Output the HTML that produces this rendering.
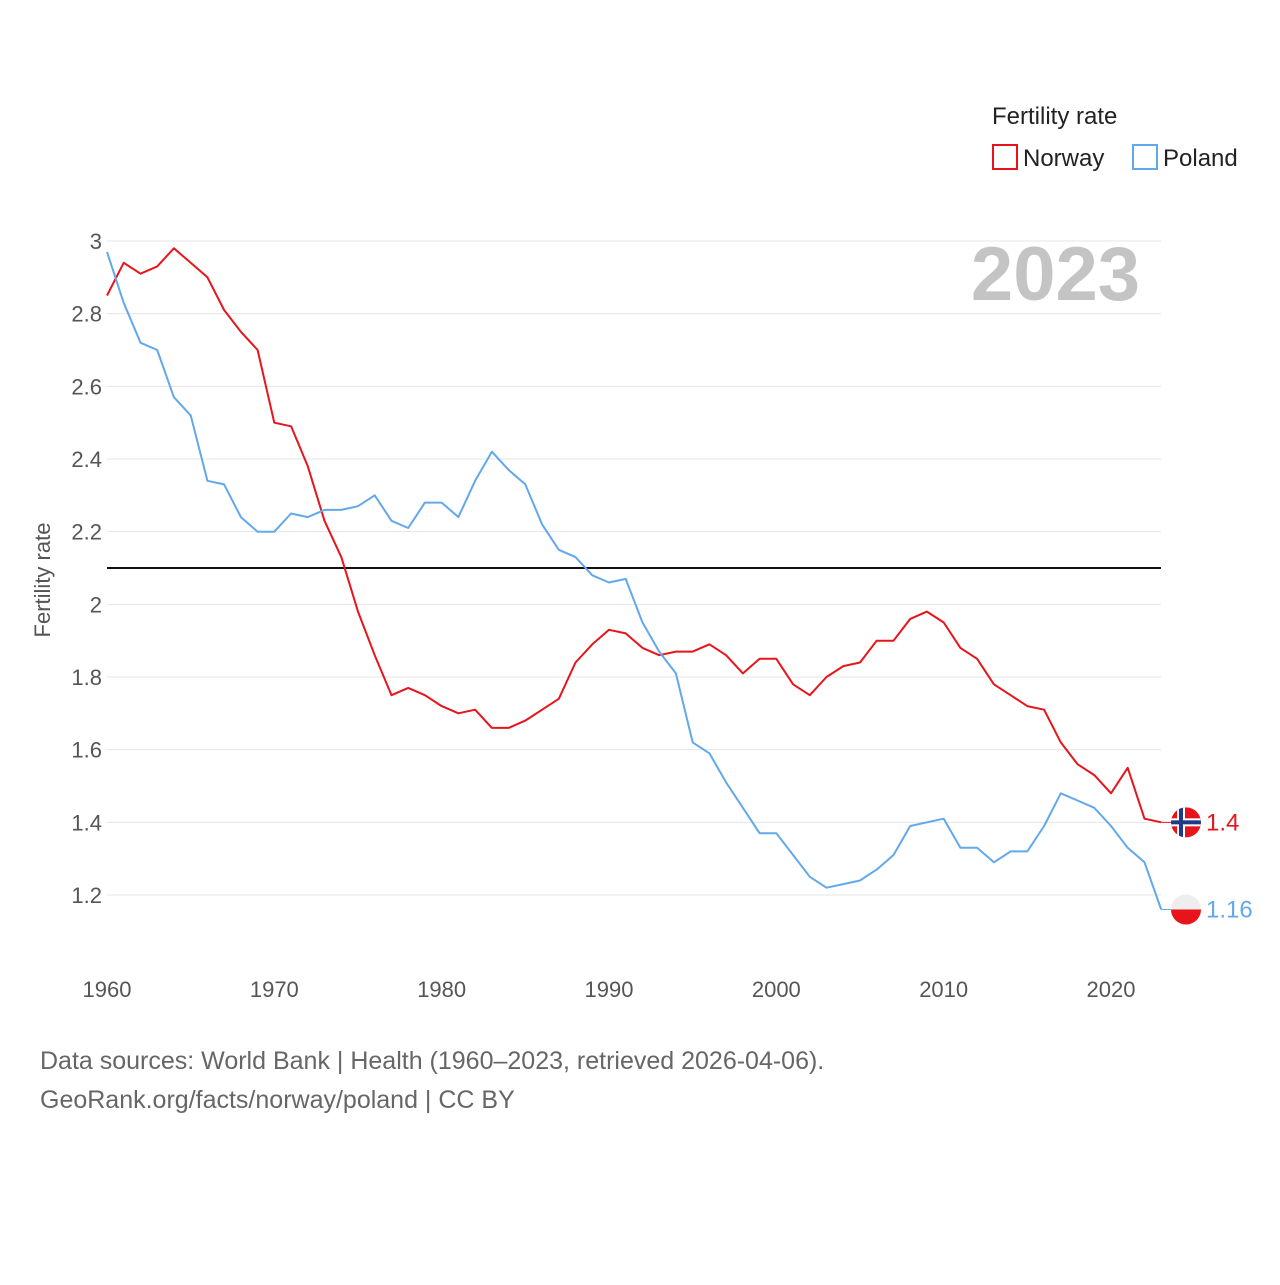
<!DOCTYPE html>
<html><head><meta charset="utf-8"><style>
body{margin:0;background:#fff;font-family:"Liberation Sans",sans-serif;}
svg text{font-family:"Liberation Sans",sans-serif;}
</style></head><body>
<svg id="chart" width="1280" height="1280" xmlns="http://www.w3.org/2000/svg">
<text x="992" y="124" font-size="24" fill="#222">Fertility rate</text>
<g><rect x="993" y="145" width="24" height="24" fill="none" stroke="#e8141b" stroke-width="2"/><text x="1023" y="166" font-size="24" fill="#222">Norway</text></g>
<g><rect x="1133" y="145" width="24" height="24" fill="none" stroke="#62a8ea" stroke-width="2"/><text x="1163" y="166" font-size="24" fill="#222">Poland</text></g>
<text x="1140" y="300" font-size="76" font-weight="bold" fill="#c4c4c4" text-anchor="end">2023</text>
<text transform="translate(50,580) rotate(-90)" font-size="22" fill="#555" text-anchor="middle">Fertility rate</text>
<g id="grid"></g><g id="series"></g>
<text x="40" y="1069" font-size="25" fill="#666">Data sources: World Bank | Health (1960–2023, retrieved 2026-04-06).</text>
<text x="40" y="1108" font-size="25" fill="#666">GeoRank.org/facts/norway/poland | CC BY</text>
</svg>
<script>
const years=[];for(let y=1960;y<=2023;y++)years.push(y);
const norway=[2.85,2.94,2.91,2.93,2.98,2.94,2.90,2.81,2.75,2.70,2.50,2.49,2.38,2.23,2.13,1.98,1.86,1.75,1.77,1.75,1.72,1.70,1.71,1.66,1.66,1.68,1.71,1.74,1.84,1.89,1.93,1.92,1.88,1.86,1.87,1.87,1.89,1.86,1.81,1.85,1.85,1.78,1.75,1.80,1.83,1.84,1.90,1.90,1.96,1.98,1.95,1.88,1.85,1.78,1.75,1.72,1.71,1.62,1.56,1.53,1.48,1.55,1.41,1.40];
const poland=[2.97,2.83,2.72,2.70,2.57,2.52,2.34,2.33,2.24,2.20,2.20,2.25,2.24,2.26,2.26,2.27,2.30,2.23,2.21,2.28,2.28,2.24,2.34,2.42,2.37,2.33,2.22,2.15,2.13,2.08,2.06,2.07,1.95,1.87,1.81,1.62,1.59,1.51,1.44,1.37,1.37,1.31,1.25,1.22,1.23,1.24,1.27,1.31,1.39,1.40,1.41,1.33,1.33,1.29,1.32,1.32,1.39,1.48,1.46,1.44,1.39,1.33,1.29,1.16];
const yTicks=[1.2,1.4,1.6,1.8,2,2.2,2.4,2.6,2.8,3];
const xTicks=[1960,1970,1980,1990,2000,2010,2020];
const refValue=[2.1];
const NS="http://www.w3.org/2000/svg";
const X=v=>107+(v-1960)*(1111-107)/60;
const Y=v=>895-(v-1.2)*(895-241)/1.8;
function mk(tag,attrs,parent,txt){const e=document.createElementNS(NS,tag);for(const k in attrs)e.setAttribute(k,attrs[k]);if(txt!==undefined)e.textContent=txt;parent.appendChild(e);return e;}
const grid=document.getElementById('grid'),ser=document.getElementById('series');
yTicks.forEach(t=>{
 const l=mk('line',{x1:107,x2:1161,y1:Y(t),y2:Y(t),stroke:'#e6e6e6','stroke-width':1},grid);
 
 
 const tx=mk('text',{x:102,y:Y(t)+8,'font-size':22,fill:'#555','text-anchor':'end'},grid,String(t));
 
 
});
xTicks.forEach(t=>{
 const tx=mk('text',{x:X(t),y:997,'font-size':22,fill:'#555','text-anchor':'middle'},grid,String(t));
 
 
});
const ref=mk('line',{x1:107,x2:1161,y1:Y(refValue[0]),y2:Y(refValue[0]),stroke:'#111','stroke-width':2},grid);


function line(vals,color,name){
 const d=vals.map((v,i)=>(i?'L':'M')+X(years[i]).toFixed(1)+','+Y(v).toFixed(1)).join('');
 const p=mk('path',{d:d,fill:'none',stroke:color,'stroke-width':2,'stroke-linejoin':'round'},ser);
 
 
 const lx=X(years[years.length-1]),ly=Y(vals[vals.length-1]);
 mk('path',{d:`M${lx},${ly}L1186,${ly}`,stroke:color,'stroke-width':1},ser);
 return ly;
}
const ny=line(norway,'#e8141b','norway-line');
const py=line(poland,'#62a8ea','poland-line');
const fn=mk('g',{},ser);


mk('clipPath',{id:'cn'},fn).appendChild(document.createElementNS(NS,'circle'));
const cc=fn.querySelector('clipPath circle');cc.setAttribute('cx',1186);cc.setAttribute('cy',ny);cc.setAttribute('r',15);
const gn=mk('g',{'clip-path':'url(#cn)'},fn);
mk('rect',{x:1171,y:ny-15,width:30,height:30,fill:'#e8141b'},gn);
mk('rect',{x:1171,y:ny-4,width:30,height:8,fill:'#fff'},gn);
mk('rect',{x:1177,y:ny-15,width:8,height:30,fill:'#fff'},gn);
mk('rect',{x:1171,y:ny-2,width:30,height:4,fill:'#1f3a8a'},gn);
mk('rect',{x:1179,y:ny-15,width:4,height:30,fill:'#1f3a8a'},gn);
const nl=mk('text',{x:1206,y:ny+8,'font-size':24,fill:'#e8141b'},ser,String(norway[norway.length-1]));


const fp=mk('g',{},ser);


mk('circle',{cx:1186,cy:py,r:15,fill:'#eee'},fp);
mk('path',{d:`M1171,${py}A15,15 0 0 0 1201,${py}Z`,fill:'#e8141b'},fp);
const pl=mk('text',{x:1206,y:py+8,'font-size':24,fill:'#62a8ea'},ser,String(poland[poland.length-1]));


</script>
</body></html>
